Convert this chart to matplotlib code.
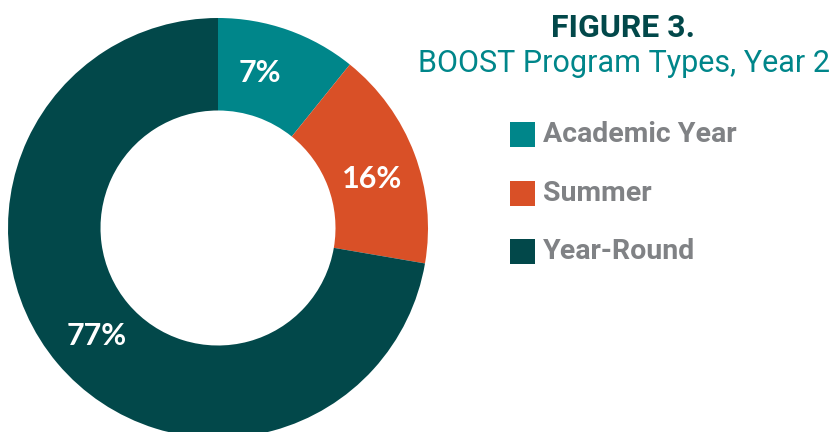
import matplotlib
matplotlib.use("Agg")
import matplotlib.pyplot as plt
from matplotlib import font_manager

# ---- data ----
categories = ["Academic Year", "Summer", "Year-Round"]
label_values = [7, 16, 77]            # printed percentages
slice_shares = [10.8, 16.9, 72.3]     # drawn angular shares
colors = ["#00868A", "#D95027", "#02484A"]
title = "FIGURE 3."
subtitle = "BOOST Program Types, Year 2"

names = {f.name for f in font_manager.fontManager.ttflist}
narrow = "Liberation Sans Narrow" if "Liberation Sans Narrow" in names else "Roboto"

W, H = 835, 432
fig = plt.figure(figsize=(W / 100, H / 100), dpi=100)
ax = fig.add_axes([0, 0, 1, 1])

cx, cy, R, r_in = 218, H - 228, 210, 117.5
ax.pie(slice_shares, colors=colors, startangle=90, counterclock=False,
       center=(cx, cy), radius=R,
       wedgeprops=dict(width=R - r_in, linewidth=0), frame=True)
ax.set_xlim(0, W)
ax.set_ylim(0, H)
ax.set_aspect("equal")
ax.axis("off")

label_pos = [(260, 73), (372, 179), (97, 336)]
for v, (x, y) in zip(label_values, label_pos):
    ax.text(x, H - y, f"{v}%", color="white", fontsize=22, fontweight="bold",
            family=["Lato", "DejaVu Sans"], ha="center", va="center")

ax.text(623, H - 28, title, color="#02484A", fontsize=23, fontweight="bold",
        family=[narrow, "DejaVu Sans"], ha="center", va="center")
ax.text(624, H - 64, subtitle, color="#00868A", fontsize=22, fontweight="normal",
        family=[narrow, "DejaVu Sans"], ha="center", va="center")

sq_y = [122, 181, 239]
for cat, col, y in zip(categories, colors, sq_y):
    ax.add_patch(plt.Rectangle((510, H - y - 25), 25, 25, color=col, lw=0))
    ax.text(543, H - y - 12.5, cat, color="#808285", fontsize=20.5, fontweight="bold",
            family=[narrow, "DejaVu Sans"], ha="left", va="center")

fig.savefig("out.png", dpi=100)
